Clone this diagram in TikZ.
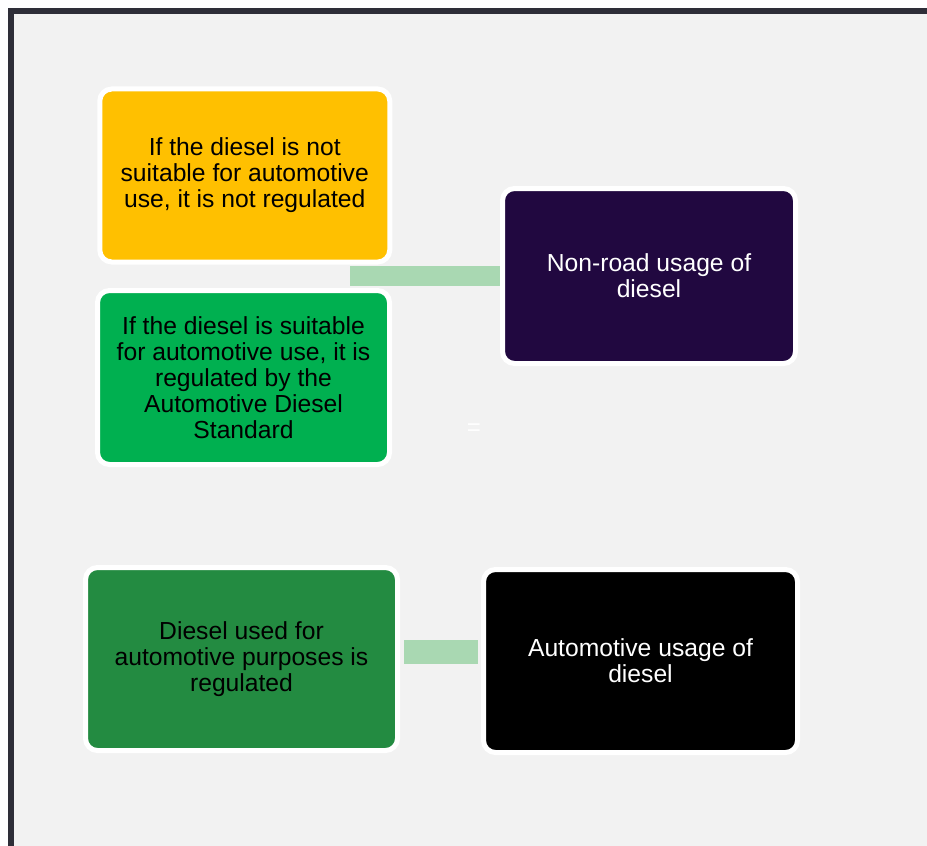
\documentclass[tikz,border=0pt]{standalone}
\usepackage{fontspec}
\setmainfont{Liberation Sans}
\usetikzlibrary{positioning,calc}
\definecolor{panel}{HTML}{F2F2F2}
\definecolor{framec}{HTML}{2E2E38}
\definecolor{amber}{HTML}{FFC000}
\definecolor{brightgreen}{HTML}{00B050}
\definecolor{deeppurple}{HTML}{210840}
\definecolor{forest}{HTML}{238B41}
\definecolor{linkc}{HTML}{A9D8B2}
\begin{document}
\begin{tikzpicture}
[x=0.75pt, y=-0.75pt,
card/.style={rectangle, rounded corners=9pt, draw=white, line width=3.75pt, inner sep=0pt, align=center, font=\fontsize{18.5}{19.5}\selectfont},
cardw/.style={card, text=white},
link/.style={draw=linkc, line width=15pt}]

\useasboundingbox (0,0) rectangle (927,845);
\fill[white] (0,0) rectangle (927,845);
\fill[panel] (11,11.5) rectangle (940,860);
\draw[framec, line width=4.5pt] (11,860) -- (11,11.5) -- (940,11.5);

\node[card, fill=amber, minimum width=217.5pt, minimum height=129.75pt] (notsuit) at (244.75,175.5) {If the diesel is not\\suitable for automotive\\use, it is not regulated};
\node[card, fill=brightgreen, minimum width=219pt, minimum height=130.5pt] (suit) at (243.5,377.5) {If the diesel is suitable\\for automotive use, it is\\regulated by the\\Automotive Diesel\\Standard};
\node[cardw, fill=deeppurple, minimum width=219.75pt, minimum height=131.25pt] (nonroad) at (649,276) {Non-road usage of\\diesel};
\node[card, fill=forest, minimum width=234pt, minimum height=137.25pt] (regulated) at (241.5,659) {Diesel used for\\automotive purposes is\\regulated};
\node[cardw, fill=black, minimum width=235.5pt, minimum height=137.25pt] (auto) at (640.5,661) {Automotive usage of\\diesel};

\coordinate (split) at (350,276);
\draw[link] (split) -- (nonroad.west);
\draw[link, line width=18pt, shorten <=3pt, shorten >=2pt] (regulated.east |- 0,652) -- (auto.west |- 0,652);

\node[text=white, font=\fontsize{18}{20}\selectfont] (eq) at (474,430) {=};
\end{tikzpicture}
\end{document}
